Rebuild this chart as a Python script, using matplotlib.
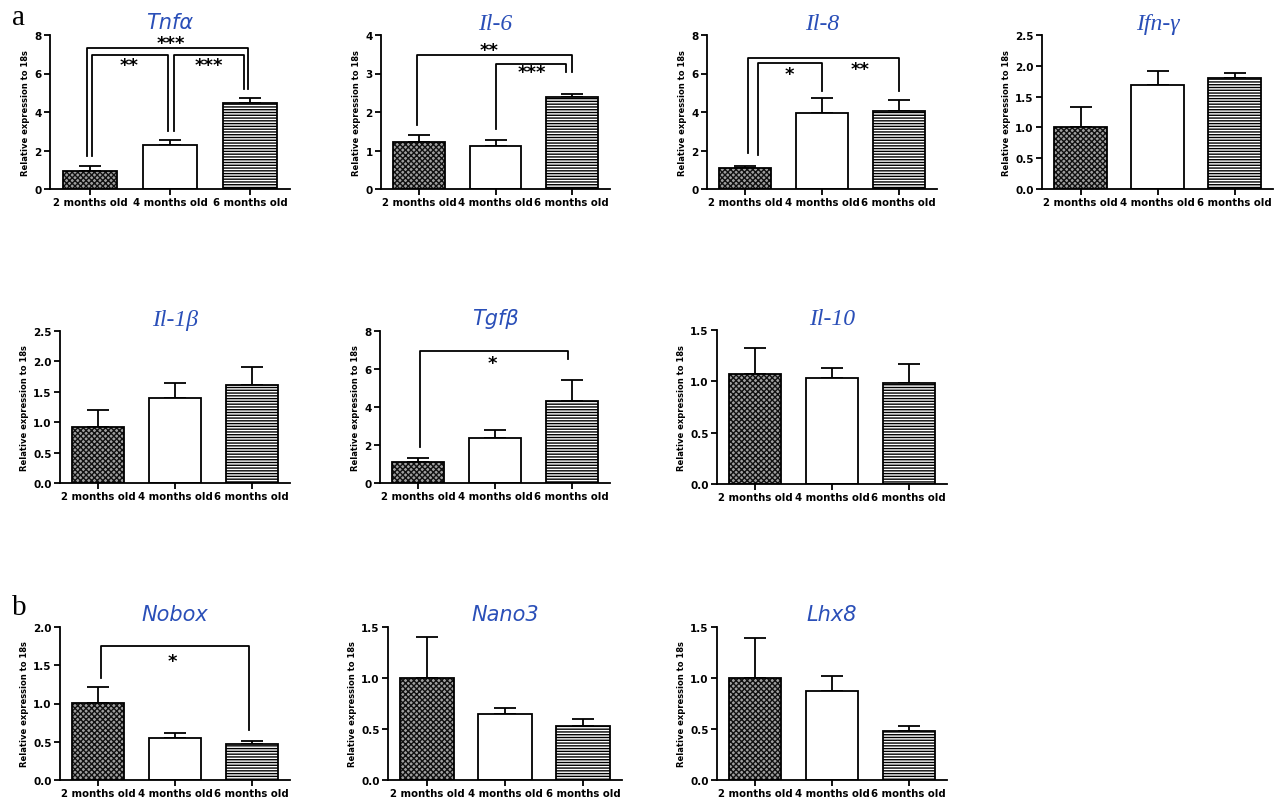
import matplotlib
matplotlib.use("Agg")
import matplotlib.pyplot as plt
import numpy as np

plt.rcParams['hatch.linewidth'] = 1.0

W, H = 1280, 803

groups = ["2 months old", "4 months old", "6 months old"]

genes = ["Tnfα", "Il-6", "Il-8", "Ifn-γ", "Il-1β", "Tgfβ", "Il-10", "Nobox", "Nano3", "Lhx8"]

tnfa_mean = [0.95, 2.28, 4.48]
tnfa_err = [0.25, 0.24, 0.24]
il6_mean = [1.23, 1.11, 2.40]
il6_err = [0.18, 0.15, 0.07]
il8_mean = [1.10, 3.93, 4.07]
il8_err = [0.10, 0.78, 0.55]
ifng_mean = [1.01, 1.69, 1.81]
ifng_err = [0.32, 0.22, 0.07]
il1b_mean = [0.92, 1.39, 1.62]
il1b_err = [0.28, 0.25, 0.29]
tgfb_mean = [1.09, 2.35, 4.33]
tgfb_err = [0.22, 0.45, 1.08]
il10_mean = [1.07, 1.03, 0.98]
il10_err = [0.25, 0.10, 0.19]
nobox_mean = [1.01, 0.55, 0.47]
nobox_err = [0.21, 0.06, 0.04]
nano3_mean = [1.00, 0.65, 0.53]
nano3_err = [0.40, 0.06, 0.07]
lhx8_mean = [1.00, 0.87, 0.48]
lhx8_err = [0.39, 0.15, 0.05]

means = [tnfa_mean, il6_mean, il8_mean, ifng_mean, il1b_mean, tgfb_mean,
         il10_mean, nobox_mean, nano3_mean, lhx8_mean]
errs = [tnfa_err, il6_err, il8_err, ifng_err, il1b_err, tgfb_err,
        il10_err, nobox_err, nano3_err, lhx8_err]

y_max = [8, 4, 8, 2.5, 2.5, 8, 1.5, 2.0, 1.5, 1.5]
y_step = [2, 1, 2, 0.5, 0.5, 2, 0.5, 0.5, 0.5, 0.5]
y_fmt = ["%d", "%d", "%d", "%.1f", "%.1f", "%d", "%.1f", "%.1f", "%.1f", "%.1f"]

# significance brackets: (x_left, x_right, y_bar, y_left_end, y_right_end, label, label_x, label_y)
brackets = {
    0: [(-0.04, 1.97, 7.3, 1.7, 5.2, "***", 1.01, 7.6),
        (0.03, 0.97, 6.96, 1.7, 3.0, "**", 0.49, 6.45),
        (1.05, 1.92, 6.96, 3.0, 5.2, "***", 1.49, 6.45)],
    1: [(-0.03, 2.0, 3.48, 1.66, 3.03, "**", 0.92, 3.62),
        (1.0, 1.92, 3.25, 1.56, 3.03, "***", 1.47, 3.05)],
    2: [(0.03, 2.0, 6.8, 1.85, 5.1, "**", 1.5, 6.25),
        (0.16, 1.0, 6.53, 1.78, 5.1, "*", 0.57, 5.98)],
    5: [(0.02, 1.95, 6.95, 1.9, 6.55, "*", 0.97, 6.3)],
    7: [(0.03, 1.96, 1.75, 1.33, 0.65, "*", 0.96, 1.55)],
}

# layout (pixel boxes: x0, x1, ytop, ybot)
boxes = [
    (50, 290, 36, 190), (381, 610, 36, 190), (707, 937, 36, 190), (1042, 1273, 36, 190),
    (60, 290, 332, 484), (380, 610, 332, 484), (717, 947, 331, 485),
    (60, 290, 628, 781), (388, 622, 628, 781), (717, 947, 628, 781),
]
serif_titles = {1, 2, 3, 4, 6}
title_color = "#2a4fb8"

fig = plt.figure(figsize=(W / 100, H / 100), dpi=100)

x = np.arange(3)
for i, g in enumerate(genes):
    x0, x1, yt, yb = boxes[i]
    ax = fig.add_axes([x0 / W, 1 - yb / H, (x1 - x0) / W, (yb - yt) / H])
    m = means[i]
    e = errs[i]
    # error bars (upper only)
    ax.errorbar(x, m, yerr=[np.zeros(3), e], fmt='none', ecolor='black',
                elinewidth=1.3, capsize=8, capthick=1.3, zorder=1)
    # bar 1: crosshatch
    ax.bar(x[0], m[0], width=0.68, facecolor='#a0a0a0', edgecolor='#111111',
           hatch='xxxxxx', linewidth=0, zorder=2)
    # bar 2: plain white
    ax.bar(x[1], m[1], width=0.68, facecolor='white', edgecolor='black',
           linewidth=0, zorder=2)
    # bar 3: horizontal stripes
    ax.bar(x[2], m[2], width=0.68, facecolor='white', edgecolor='black',
           hatch='------', linewidth=0, zorder=2)
    ax.bar(x, m, width=0.68, fill=False, edgecolor='black', linewidth=1.3, zorder=3)

    ax.set_xlim(-0.5, 2.5)
    ax.set_ylim(0, y_max[i])
    ticks = np.arange(0, y_max[i] + 1e-9, y_step[i])
    ax.set_yticks(ticks)
    ax.set_yticklabels([y_fmt[i] % t for t in ticks], fontsize=7.5, fontweight='bold')
    ax.set_xticks(x)
    ax.set_xticklabels(groups, fontsize=7.3, fontweight='bold')
    for s in ['top', 'right']:
        ax.spines[s].set_visible(False)
    for s in ['left', 'bottom']:
        ax.spines[s].set_linewidth(1.3)
    ax.tick_params(axis='both', direction='out', width=1.3, length=4, pad=2)
    ax.set_ylabel("Relative expression to 18s", fontsize=6, fontweight='bold', labelpad=3)
    if i in serif_titles:
        ax.set_title(g, fontsize=17, style='italic', family='Liberation Serif',
                     color=title_color, pad=4)
    else:
        ax.set_title(g, fontsize=15, style='italic', family='DejaVu Sans',
                     color=title_color, pad=5)
    for (xl, xr, yb_, yle, yre, lab, lx, ly) in brackets.get(i, []):
        ax.plot([xl, xl, xr, xr], [yle, yb_, yb_, yre], color='black', lw=1.3,
                clip_on=False, zorder=4)
        ax.text(lx, ly, lab, ha='center', va='center', fontsize=13,
                fontweight='bold', clip_on=False)

fig.text(12 / W, 1 - 18 / H, "a", fontsize=21, family='Liberation Serif', va='center', ha='left')
fig.text(12 / W, 1 - 608 / H, "b", fontsize=21, family='Liberation Serif', va='center', ha='left')

fig.savefig("out.png", dpi=100)
